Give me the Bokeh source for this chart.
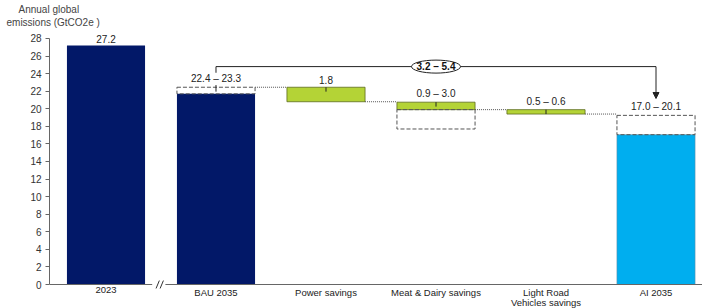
from bokeh.plotting import figure
from bokeh.models import Range1d, FixedTicker, Arrow, NormalHead, Title
from bokeh.core.properties import value
from bokeh.embed import file_html
from bokeh.resources import INLINE

FONT = "Liberation Sans"

# ---- data ----
categories = ["2023", "BAU 2035", "Power savings", "Meat & Dairy savings",
              "Light Road\nVehicles savings", "AI 2035"]
bar_bottom = [0, 0, 20.8, 19.9, 19.4, 0]
bar_top = [27.2, 21.7, 22.45, 20.75, 19.9, 17.05]
value_labels = ["27.2", "22.4 \u2013 23.3", "1.8", "0.9 \u2013 3.0", "0.5 \u2013 0.6", "17.0 \u2013 20.1"]

# dashed uncertainty boxes (category index, bottom, top)
box_index = [1, 3, 5]
box_bottom = [21.7, 17.7, 17.05]
box_top = [22.45, 19.9, 19.25]

total_saving_label = "3.2 \u2013 5.4"
bracket_level = 24.8
y_ticks = list(range(0, 29, 2))

NAVY = "#021868"
GREEN = "#b4d336"
CYAN = "#00aeef"
bar_colors = [NAVY, NAVY, GREEN, GREEN, GREEN, CYAN]
BW = 0.71

xs = list(range(len(categories)))

p = figure(width=702, height=308, output_backend="svg", toolbar_location=None,
           x_range=Range1d(-0.5136, 5.4227), y_range=Range1d(-2.73, 29.25),
           min_border_left=49, min_border_right=0, min_border_top=27, min_border_bottom=0)
p.outline_line_color = None
p.xgrid.grid_line_color = None
p.ygrid.grid_line_color = None
p.xaxis.visible = False

# titles (y-axis caption)
p.title.text = "Annual global"
p.title.align = "left"
p.title.offset = -31
p.title.standoff = 0
p.title.text_font = FONT
p.title.text_font_size = "10px"
p.title.text_font_style = "normal"
p.title.text_color = "#444444"
p.add_layout(Title(text="emissions (GtCO2e )", align="left", offset=-43, standoff=0,
                   text_font=FONT, text_font_size="10px", text_font_style="normal",
                   text_color="#444444"), "above")

# bars
navy_idx = [i for i in xs if bar_colors[i] == NAVY]
green_idx = [i for i in xs if bar_colors[i] == GREEN]
cyan_idx = [i for i in xs if bar_colors[i] == CYAN]
p.vbar(x=[xs[i] for i in navy_idx], bottom=[bar_bottom[i] for i in navy_idx],
       top=[bar_top[i] for i in navy_idx], width=BW, fill_color=NAVY, line_color=None)
p.vbar(x=[xs[i] for i in green_idx], bottom=[bar_bottom[i] for i in green_idx],
       top=[bar_top[i] for i in green_idx], width=BW, fill_color=GREEN,
       line_color="#5c6b1c", line_width=0.8)
p.vbar(x=[xs[i] for i in cyan_idx], bottom=[bar_bottom[i] for i in cyan_idx],
       top=[bar_top[i] for i in cyan_idx], width=BW, fill_color=CYAN,
       line_color="#5a8fa8", line_width=0.6)

# dashed boxes
p.vbar(x=box_index, bottom=box_bottom, top=box_top, width=BW, fill_color=None,
       line_color="#555555", line_dash="4 2", line_width=1)

# dotted connectors between steps
seg_levels = [box_top[0], bar_bottom[2], bar_bottom[3], bar_bottom[4]]
p.segment(x0=[xs[i] + BW / 2 for i in range(1, 5)], y0=seg_levels,
          x1=[xs[i + 1] - BW / 2 for i in range(1, 5)], y1=seg_levels,
          line_color="#555555", line_dash="1 1", line_width=1)

# small centre ticks on step tops
tick_idx = [1, 2, 3, 4]
tick_tops = [box_top[0], bar_top[2], bar_top[3], bar_top[4]]
tick_above = [0.25, 0, 0, 0]
p.segment(x0=tick_idx, y0=[t - 0.5 for t in tick_tops], x1=tick_idx,
          y1=[t + a for t, a in zip(tick_tops, tick_above)], line_color="#222222", line_width=1)

# value labels
label_y = []
for i in xs:
    t = bar_top[i]
    if i in box_index:
        t = max(t, box_top[box_index.index(i)])
    label_y.append(t)
p.text(x=xs, y=label_y, text=value_labels, text_align="center", text_baseline="bottom",
       y_offset=-3, text_font=value(FONT), text_font_size="10px", text_color="#222222")

# bracket with arrow
p.segment(x0=[1, 1], y0=[24.1, bracket_level], x1=[1, 5], y1=[bracket_level, bracket_level],
          line_color="#222222", line_width=1)
p.add_layout(Arrow(x_start=5, y_start=bracket_level, x_end=5, y_end=21.17,
                   line_color="#222222", line_width=1,
                   end=NormalHead(size=6, fill_color="#222222", line_color="#222222")))
p.ellipse(x=[3], y=[bracket_level], width=49, height=13, width_units="screen",
          height_units="screen", fill_color="white", line_color="#222222", line_width=1)
p.text(x=[3], y=[bracket_level], text=[total_saving_label], text_align="center",
       text_baseline="middle", text_font=value(FONT), text_font_size="10px",
       text_font_style="bold", text_color="#111111")

# category axis: baseline with break, labels
x0 = p.x_range.start
x1 = p.x_range.end
p.segment(x0=[x0, 0.54], y0=[0, 0], x1=[0.42, x1], y1=[0, 0],
          line_color="#666666", line_width=1)
p.segment(x0=[0.455, 0.492], y0=[-0.45, -0.45], x1=[0.485, 0.522], y1=[0.45, 0.45],
          line_color="#333333", line_width=1)
p.text(x=xs, y=[0] * len(xs), text=categories, text_align="center", text_baseline="top",
       y_offset=2, text_font=value(FONT), text_font_size="9.5px", text_color="#222222",
       text_line_height=0.95)

# y axis
p.yaxis.ticker = FixedTicker(ticks=y_ticks)
p.yaxis.bounds = (0, 28)
p.yaxis.minor_tick_line_color = None
p.yaxis.major_tick_out = 4
p.yaxis.major_tick_in = 0
p.yaxis.axis_line_color = "#666666"
p.yaxis.major_tick_line_color = "#666666"
p.yaxis.major_label_text_font = FONT
p.yaxis.major_label_text_font_size = "10px"
p.yaxis.major_label_text_color = "#333333"
p.yaxis.major_label_standoff = 4

open("out.html", "w").write(file_html(p, INLINE))
